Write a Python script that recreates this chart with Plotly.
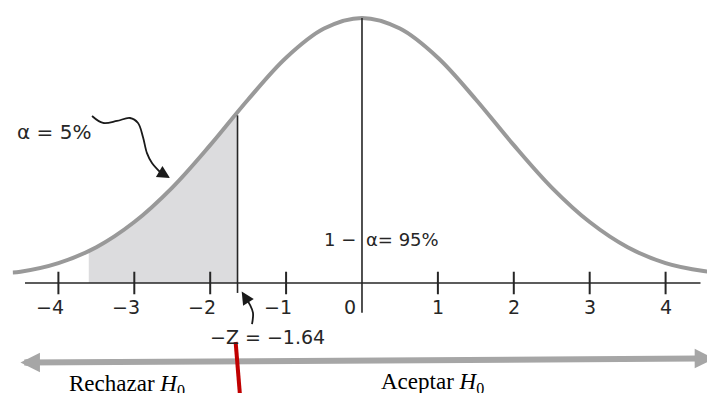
import plotly.graph_objects as go

# curve heights (axis line = 0, peak ~0.40)
curve_z = [-4.6, -4.5, -4.0, -3.5, -3.0, -2.5, -2.0, -1.5, -1.0, -0.5, 0.0,
           0.5, 1.0, 1.5, 2.0, 2.5, 3.0, 3.5, 4.0, 4.5, 4.6]
curve_h = [0.016, 0.017, 0.030, 0.054, 0.092, 0.144, 0.208, 0.277, 0.340, 0.384, 0.400,
           0.384, 0.340, 0.277, 0.208, 0.144, 0.092, 0.054, 0.030, 0.018, 0.017]

# shaded rejection region
shade_z = [-3.6, -3.5, -3.0, -2.5, -2.0, -1.64]
shade_h = [0.049, 0.054, 0.092, 0.144, 0.208, 0.253]

z_crit = -1.64
tick_vals = [-4, -3, -2, -1, 0, 1, 2, 3, 4]
tick_text = ['\u22124', '\u22123', '\u22122', '\u22121', '0', '1', '2', '3', '4']

# hand drawn arrows
squig_z = [-3.557, -3.412, -3.228, -3.057, -2.951, -2.885, -2.833, -2.767, -2.661]
squig_h = [0.252, 0.2415, 0.2445, 0.249, 0.2415, 0.220, 0.196, 0.181, 0.1675]
zarrow_z = [-1.449, -1.436, -1.476, -1.515]
zarrow_h = [-0.062, -0.045, -0.033, -0.0257]

sans = 'DejaVu Sans, Arial, sans-serif'
serif = 'Liberation Serif, Times New Roman, serif'
ink = '#262626'

fig = go.Figure()

fig.add_trace(go.Scatter(x=shade_z, y=shade_h, mode='lines', fill='tozeroy',
                         fillcolor='#dcdcde', line=dict(width=0),
                         hoverinfo='skip', showlegend=False))

fig.add_trace(go.Scatter(x=curve_z, y=curve_h, mode='lines',
                         line=dict(color='#999999', width=4, shape='spline'),
                         showlegend=False))

# axis line and ticks
fig.add_shape(type='line', x0=-4.44, x1=4.46, y0=0, y1=0,
              line=dict(color=ink, width=1.6))
for t in tick_vals:
    if t == 0:
        continue
    fig.add_shape(type='line', x0=t, x1=t, y0=-0.017, y1=0.017,
                  line=dict(color=ink, width=2))

# vertical lines
fig.add_shape(type='line', x0=0, x1=0, y0=-0.045, y1=0.400,
              line=dict(color=ink, width=1.6))
fig.add_shape(type='line', x0=z_crit, x1=z_crit, y0=-0.015, y1=0.253,
              line=dict(color=ink, width=1.6))

# tick labels
for t, s in zip(tick_vals, tick_text):
    shift = -8 if t < 0 else (-12 if t == 0 else 0)
    fig.add_annotation(x=t, y=-0.036, text=s, showarrow=False, xshift=shift,
                       font=dict(family=sans, size=19, color=ink))

# squiggly arrow to the tail
fig.add_trace(go.Scatter(x=squig_z, y=squig_h, mode='lines',
                         line=dict(color='#1a1a1a', width=1.8, shape='spline'),
                         hoverinfo='skip', showlegend=False))
fig.add_annotation(x=-2.53, y=0.1585, ax=squig_z[-1], ay=squig_h[-1],
                   axref='x', ayref='y', showarrow=True, arrowhead=2,
                   arrowsize=1.4, arrowwidth=1.8, arrowcolor='#1a1a1a', text='')

# small curved arrow at -Z
fig.add_trace(go.Scatter(x=zarrow_z, y=zarrow_h, mode='lines',
                         line=dict(color='#1a1a1a', width=1.8, shape='spline'),
                         hoverinfo='skip', showlegend=False))
fig.add_annotation(x=-1.585, y=-0.013, ax=zarrow_z[-1], ay=zarrow_h[-1],
                   axref='x', ayref='y', showarrow=True, arrowhead=2,
                   arrowsize=1.4, arrowwidth=1.8, arrowcolor='#1a1a1a', text='')

# text labels
fig.add_annotation(x=-4.06, y=0.228, text='\u03b1 = 5%', showarrow=False,
                   font=dict(family=sans, size=20, color=ink))
fig.add_annotation(x=-0.05, y=0.065, text='1 \u2212', showarrow=False,
                   xanchor='right', font=dict(family=sans, size=18, color=ink))
fig.add_annotation(x=0.03, y=0.065, text='\u03b1= 95%', showarrow=False,
                   xanchor='left', font=dict(family=sans, size=18, color=ink))
fig.add_annotation(x=-1.24, y=-0.0815, text='\u2212Z = \u22121.64', showarrow=False,
                   font=dict(family=sans, size=19, color=ink))

# decision double arrow
fig.add_shape(type='line', x0=-4.45, x1=4.43, y0=-0.12, y1=-0.114,
              line=dict(color='#a6a6a6', width=6))
fig.add_annotation(x=-4.50, y=-0.12, ax=-4.3, ay=-0.12, axref='x', ayref='y',
                   showarrow=True, arrowhead=2, arrowsize=0.65, arrowwidth=6,
                   arrowcolor='#a6a6a6', text='')
fig.add_annotation(x=4.64, y=-0.114, ax=4.4, ay=-0.114, axref='x', ayref='y',
                   showarrow=True, arrowhead=2, arrowsize=0.65, arrowwidth=6,
                   arrowcolor='#a6a6a6', text='')
fig.add_shape(type='line', x0=-1.665, x1=-1.607, y0=-0.089, y1=-0.17,
              line=dict(color='#c00000', width=4), layer='above')

fig.add_annotation(x=-3.09, y=-0.1535, text='Rechazar <i>H</i><sub>0</sub>',
                   showarrow=False, font=dict(family=serif, size=23, color='#000000'))
fig.add_annotation(x=0.935, y=-0.1505, text='Aceptar <i>H</i><sub>0</sub>',
                   showarrow=False, font=dict(family=serif, size=23, color='#000000'))

# the page puts the plot 8px in from the top-left corner
fig.update_layout(width=707, height=385, margin=dict(l=0, r=0, t=0, b=0),
                  plot_bgcolor='white', paper_bgcolor='white',
                  xaxis=dict(range=[-4.664, 4.651], visible=False, fixedrange=True),
                  yaxis=dict(range=[-0.166, 0.415], visible=False, fixedrange=True))

fig.write_html("out.html")
